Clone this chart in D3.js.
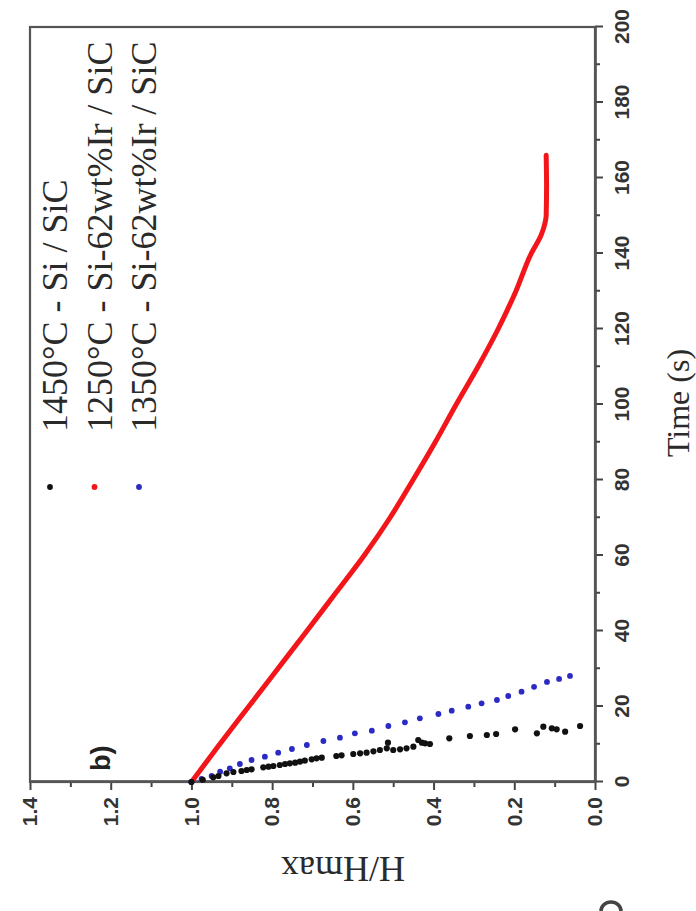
<!DOCTYPE html>
<html>
<head>
<meta charset="utf-8">
<script src="https://cdn.jsdelivr.net/npm/d3@7"></script>
<style>
  body { margin: 0; background: #fff; }
  svg { display: block; }
</style>
</head>
<body>
<div id="chart"></div>
<script>
// the figure sits turned 90deg counter-clockwise on the page,
// so it is drawn flat (911 wide, 696 high) and then the group is rotated

const timeTicks = [0, 20, 40, 60, 80, 100, 120, 140, 160, 180, 200];
const timeMinor = [10, 30, 50, 70, 90, 110, 130, 150, 170, 190];
const ratioTicks = [0.0, 0.2, 0.4, 0.6, 0.8, 1.0, 1.2, 1.4];
const ratioMinor = [0.1, 0.3, 0.5, 0.7, 0.9, 1.1, 1.3];

const legendLabels = [
  "1450°C - Si / SiC",
  "1250°C - Si-62wt%Ir / SiC",
  "1350°C - Si-62wt%Ir / SiC"
];
const seriesColors = ["#111111", "#f2161b", "#2b2bc4"];

// 1450°C - Si / SiC (scattered dots)
const blackTime = [0, 0.6, 1.25, 1.59, 2.3, 2.65, 2.91, 3.18, 3.36, 3.89, 4.05, 4.24, 4.5, 4.77, 4.95,
  5.11, 5.38, 5.64, 6.01, 6.28, 6.44, 6.89, 7.07, 7.42, 7.6, 7.76, 8.13, 8.48, 8.93, 10.41,
  8.48, 8.66, 8.93, 9.35, 11.13, 10.41, 10.25, 10.07, 11.58, 12.19, 12.45, 12.72, 13.96,
  12.9, 14.65, 14.22, 13.96, 13.32, 14.83];
const blackH = [1.0, 0.972, 0.946, 0.933, 0.913, 0.896, 0.876, 0.863, 0.851, 0.822, 0.809, 0.797, 0.781, 0.768, 0.756,
  0.743, 0.731, 0.719, 0.702, 0.69, 0.677, 0.641, 0.628, 0.599, 0.582, 0.566, 0.549, 0.533, 0.516, 0.513,
  0.5, 0.483, 0.467, 0.45, 0.438, 0.429, 0.421, 0.409, 0.361, 0.31, 0.268, 0.245, 0.198,
  0.144, 0.128, 0.107, 0.095, 0.074, 0.037];

// 1250°C - Si-62wt%Ir / SiC (dense, reads as a line)
const redTime = [0, 10, 20, 30, 40, 50, 60, 70, 80, 90, 100, 110, 120, 130, 140, 145, 148, 150, 158, 166];
const redH = [1.0, 0.93, 0.858, 0.786, 0.714, 0.643, 0.572, 0.508, 0.451, 0.396, 0.344, 0.29, 0.24, 0.196, 0.158, 0.133, 0.124, 0.121, 0.12, 0.121];

// 1350°C - Si-62wt%Ir / SiC (dotted)
const blueTime = [0, 0.8, 1.59, 2.73, 3.63, 4.77, 5.83, 6.7, 7.76, 8.74, 9.8, 10.86, 11.74, 12.9, 13.59,
  14.83, 15.81, 16.87, 18.01, 18.89, 19.95, 20.85, 21.72, 22.78, 23.92, 25.2, 26.5, 27.3, 28.1];
const blueH = [1.0, 0.975, 0.95, 0.929, 0.905, 0.88, 0.851, 0.818, 0.785, 0.751, 0.714, 0.673, 0.632, 0.595, 0.553,
  0.512, 0.471, 0.434, 0.388, 0.355, 0.314, 0.281, 0.243, 0.215, 0.182, 0.151, 0.119, 0.089, 0.062];

const W = 911, H = 696;
const margin = {top: 30, right: 27, bottom: 101, left: 129};

const svg = d3.select("#chart").append("svg")
  .attr("width", H)
  .attr("height", W);

svg.append("rect").attr("width", H).attr("height", W).attr("fill", "#fff");

const g = svg.append("g")
  .attr("transform", `translate(0,${W}) rotate(-90)`);

const x = d3.scaleLinear().domain([0, 200]).range([margin.left, W - margin.right]);
const y = d3.scaleLinear().domain([0, 1.4]).range([H - margin.bottom, margin.top]);

const tickFont = "'Liberation Sans', Arial, sans-serif";
const serif = "'Liberation Serif', 'Times New Roman', serif";

// time axis
g.append("g")
  .attr("transform", `translate(0,${H - margin.bottom})`)
  .call(d3.axisBottom(x).tickValues(timeTicks).tickSize(8).tickPadding(11).tickSizeOuter(0));
g.append("g")
  .attr("transform", `translate(0,${H - margin.bottom})`)
  .call(d3.axisBottom(x).tickValues(timeMinor).tickSize(5).tickFormat("").tickSizeOuter(0));

// ratio axis
g.append("g")
  .attr("transform", `translate(${margin.left},0)`)
  .call(d3.axisLeft(y).tickValues(ratioTicks).tickFormat(d3.format(".1f")).tickSize(8).tickPadding(7).tickSizeOuter(0));
g.append("g")
  .attr("transform", `translate(${margin.left},0)`)
  .call(d3.axisLeft(y).tickValues(ratioMinor).tickSize(5).tickFormat("").tickSizeOuter(0));

g.selectAll(".domain").attr("stroke", "#444").attr("stroke-width", 2);
g.selectAll(".tick line").attr("stroke", "#444").attr("stroke-width", 2);
g.selectAll(".tick text")
  .attr("font-family", tickFont)
  .attr("font-weight", "bold")
  .attr("font-size", 21)
  .attr("fill", "#333");

// frame
g.append("rect")
  .attr("x", margin.left)
  .attr("y", margin.top)
  .attr("width", W - margin.left - margin.right)
  .attr("height", H - margin.top - margin.bottom)
  .attr("fill", "none")
  .attr("stroke", "#555")
  .attr("stroke-width", 2.2);

// series
const blackPts = blackTime.map((t, i) => [t, blackH[i]]);
const redPts = redTime.map((t, i) => [t, redH[i]]);
const bluePts = blueTime.map((t, i) => [t, blueH[i]]);

g.append("path")
  .datum(redPts)
  .attr("fill", "none")
  .attr("stroke", seriesColors[1])
  .attr("stroke-width", 5)
  .attr("stroke-linecap", "round")
  .attr("stroke-linejoin", "round")
  .attr("d", d3.line().x(d => x(d[0])).y(d => y(d[1])).curve(d3.curveMonotoneX));

g.append("g").selectAll("circle")
  .data(bluePts)
  .join("circle")
  .attr("cx", d => x(d[0]))
  .attr("cy", d => y(d[1]))
  .attr("r", 2.9)
  .attr("fill", seriesColors[2]);

g.append("g").selectAll("circle")
  .data(blackPts)
  .join("circle")
  .attr("cx", d => x(d[0]))
  .attr("cy", d => y(d[1]))
  .attr("r", 3.1)
  .attr("fill", seriesColors[0]);

// legend
const legend = g.append("g");
legendLabels.forEach((label, i) => {
  let base = 67 + i * 44.5;
  legend.append("circle")
    .attr("cx", 424)
    .attr("cy", base - 17)
    .attr("r", 2.9)
    .attr("fill", seriesColors[i]);
  legend.append("text")
    .attr("x", 479)
    .attr("y", base)
    .attr("font-family", serif)
    .attr("font-size", 36)
    .attr("fill", "#2a2a2a")
    .text(label);
});

// panel letter
g.append("text")
  .attr("x", 140)
  .attr("y", 110)
  .attr("font-family", tickFont)
  .attr("font-weight", "bold")
  .attr("font-size", 27)
  .attr("fill", "#222")
  .text("b)");

// axis titles
g.append("text")
  .attr("x", 508)
  .attr("y", 689)
  .attr("text-anchor", "middle")
  .attr("font-family", serif)
  .attr("font-size", 32)
  .attr("fill", "#2a2a2a")
  .text("Time  (s)");

g.append("text")
  .attr("transform", "translate(54,343) rotate(-90)")
  .attr("text-anchor", "middle")
  .attr("font-family", serif)
  .attr("font-size", 36)
  .attr("fill", "#2a2a2a")
  .text("H/Hmax");

// sliver of the next panel showing at the bottom edge of the crop
svg.append("path")
  .attr("d", "M601,911 A10,9 0 0 1 621,911")
  .attr("fill", "none")
  .attr("stroke", "#444")
  .attr("stroke-width", 3.5);
</script>
</body>
</html>
